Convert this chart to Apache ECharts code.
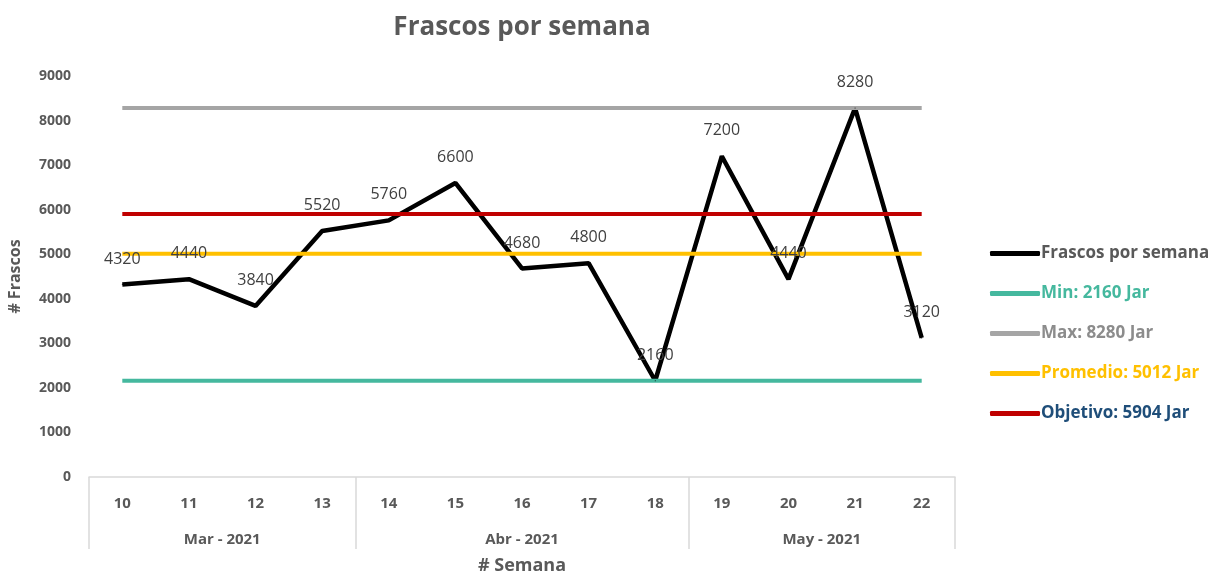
<!DOCTYPE html>
<html>
<head>
<meta charset="utf-8">
<script src="https://cdn.jsdelivr.net/npm/echarts@6/dist/echarts.min.js"></script>
<style>html,body{margin:0;padding:0;background:#fff}#c{width:1215px;height:577px}</style>
</head>
<body>
<div id="c"></div>
<script>
const weeks = ['10','11','12','13','14','15','16','17','18','19','20','21','22'];
const values = [4320, 4440, 3840, 5520, 5760, 6600, 4680, 4800, 2160, 7200, 4440, 8280, 3120];
const months = ['Mar - 2021', 'Abr - 2021', 'May - 2021'];
const monthCounts = [4, 5, 4];
const refMin = 2160, refMax = 8280, refAvg = 5012, refGoal = 5904;
const yTicks = [0, 1000, 2000, 3000, 4000, 5000, 6000, 7000, 8000, 9000];

// month group boundaries and centers on a 0..N value scale
const bounds = [0];
monthCounts.forEach(c => bounds.push(bounds[bounds.length - 1] + c));
const centers = months.map((m, i) => (bounds[i] + bounds[i + 1]) / 2);
const labelAt = {};
centers.forEach((c, i) => labelAt[c] = months[i]);

const font = '"Open Sans", "Noto Sans", sans-serif';
const gray = '#595959';
const frame = '#D9D9D9';

const chart = echarts.init(document.getElementById('c'));
const flat = v => weeks.map(() => v);
const refLine = (name, v, color) => ({
  name, type: 'line', data: flat(v), symbol: 'none', silent: true,
  lineStyle: { color, width: 4 }, itemStyle: { color }
});

chart.setOption({
  animation: false,
  backgroundColor: '#fff',
  textStyle: { fontFamily: font },
  title: {
    text: 'Frascos por semana', left: 517, top: 10, textAlign: 'center',
    textStyle: { fontFamily: font, fontSize: 26, fontWeight: 'bold', color: gray }
  },
  grid: { left: 89, right: 260, top: 76, bottom: 100, containLabel: false, outerBoundsMode: 'none' },
  legend: {
    orient: 'vertical', left: 985, top: 240, itemWidth: 50, itemHeight: 5,
    itemGap: 23, icon: 'roundRect',
    textStyle: { fontFamily: font, fontSize: 17, fontWeight: 'bold', padding: [0, 0, 0, -4] },
    data: [
      { name: 'Frascos por semana', textStyle: { color: gray } },
      { name: 'Min: ' + refMin + ' Jar', textStyle: { color: '#45B89E' } },
      { name: 'Max: ' + refMax + ' Jar', textStyle: { color: '#8C8C8C' } },
      { name: 'Promedio: ' + refAvg + ' Jar', textStyle: { color: '#FFC000' } },
      { name: 'Objetivo: ' + refGoal + ' Jar', textStyle: { color: '#1F4E79' } }
    ]
  },
  xAxis: [
    {
      type: 'category', data: weeks, position: 'bottom', boundaryGap: true,
      name: '# Semana', nameLocation: 'middle', nameGap: 80,
      nameTextStyle: { fontFamily: font, fontSize: 18, fontWeight: 'bold', color: gray },
      axisLine: { show: true, lineStyle: { color: frame, width: 1.5 } },
      axisTick: { show: false },
      axisLabel: { color: gray, fontFamily: font, fontSize: 15, fontWeight: 'bold', margin: 19 }
    },
    {
      type: 'value', min: 0, max: weeks.length, position: 'bottom',
      axisLine: { show: false },
      splitLine: { show: false },
      axisTick: { show: true, inside: false, length: 72, customValues: bounds, lineStyle: { color: frame, width: 1.5 } },
      axisLabel: {
        show: true, customValues: centers, margin: 55, color: gray,
        fontFamily: font, fontSize: 15, fontWeight: 'bold',
        formatter: v => labelAt[v] || ''
      }
    }
  ],
  yAxis: {
    type: 'value', min: yTicks[0], max: yTicks[yTicks.length - 1], interval: 1000,
    name: '# Frascos', nameLocation: 'middle', nameGap: 66,
    nameTextStyle: { fontFamily: font, fontSize: 16, fontWeight: 'bold', color: gray },
    axisLine: { show: false }, axisTick: { show: false }, splitLine: { show: false },
    axisLabel: { color: gray, fontFamily: font, fontSize: 14, fontWeight: 'bold', margin: 18, formatter: v => String(v) }
  },
  series: [
    {
      name: 'Frascos por semana', type: 'line', data: values,
      symbol: 'circle', symbolSize: 1, showSymbol: true,
      lineStyle: { color: '#000', width: 4.5 }, itemStyle: { color: '#000' },
      label: { show: true, position: 'top', distance: 17, color: '#404040', fontFamily: font, fontSize: 16 },
      z: 3
    },
    refLine('Min: ' + refMin + ' Jar', refMin, '#45B89E'),
    refLine('Max: ' + refMax + ' Jar', refMax, '#A5A5A5'),
    refLine('Promedio: ' + refAvg + ' Jar', refAvg, '#FFC000'),
    refLine('Objetivo: ' + refGoal + ' Jar', refGoal, '#C00000')
  ]
});
</script>
</body>
</html>
